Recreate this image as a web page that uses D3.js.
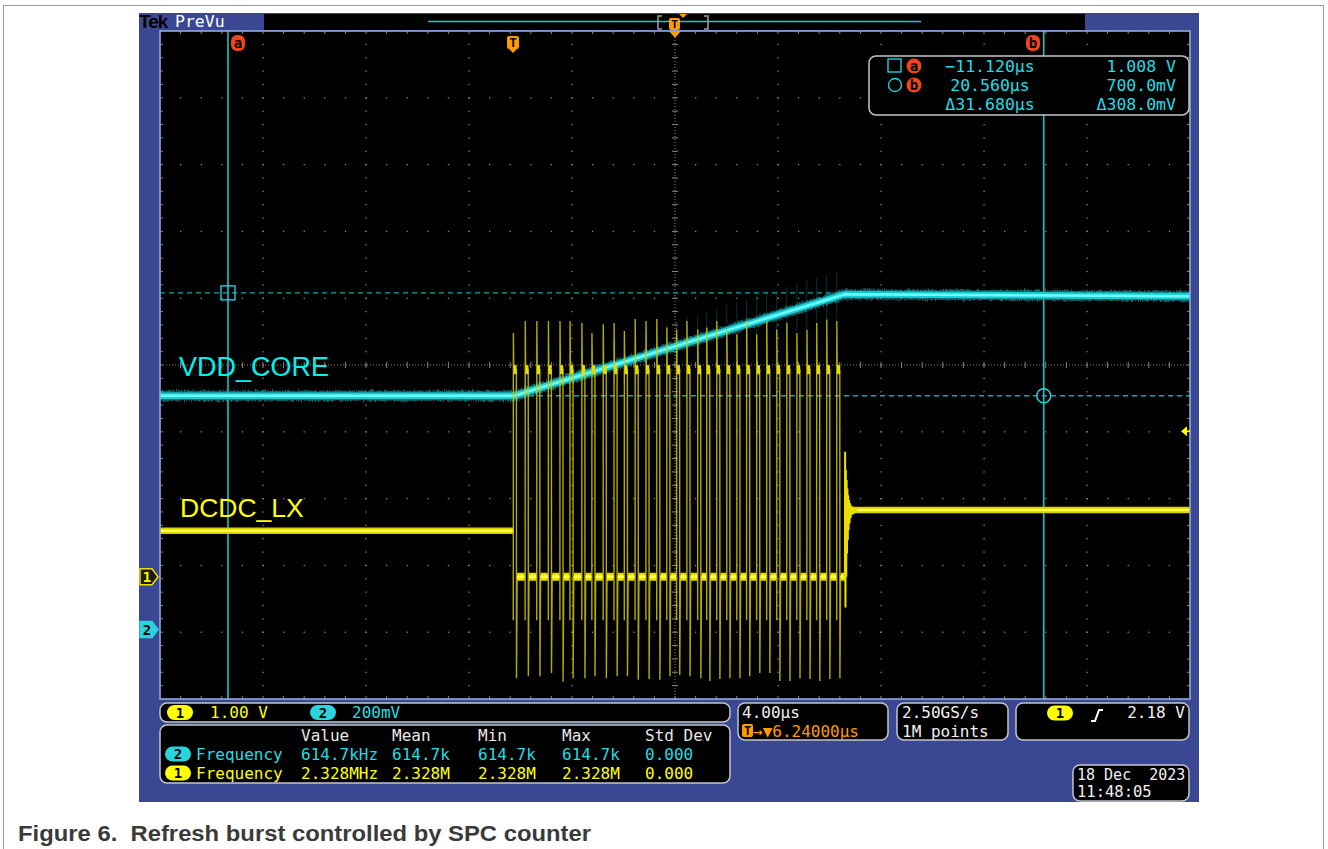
<!DOCTYPE html>
<html><head><meta charset="utf-8">
<script src="https://cdn.jsdelivr.net/npm/d3@7"></script>
<style>body{margin:0;background:#fff}svg{display:block}</style>
</head><body>
<svg id="c" width="1328" height="849"></svg>
<script>
// ---------------- data ----------------
const timeDomain = [-13.76, 26.24];          // µs : 4.00 µs/div, centre at +6.24 µs
const chVoltsPerDiv = [1.00, 0.200];         // CH1 (DCDC_LX), CH2 (VDD_CORE)
const chPositionDiv = [-3.17, -3.96];        // ground marker positions (div from centre)
const vddT = [-13.76, 0.00, 12.84, 26.24];   // µs
const vddV = [0.700, 0.700, 1.004, 0.998];   // V
const lxIdleT = [-13.76, -0.04];
const lxIdleV = [0.69, 0.69];
const pulseT  = [-0.04,0.42,0.87,1.32,1.77,2.16,2.62,3.01,3.45,3.87,4.27,4.69,5.11,5.53,5.92,6.30,
                 6.70,7.12,7.47,7.86,8.25,8.64,9.02,9.41,9.80,10.19,10.58,10.97,11.36,11.74,12.13,12.52];
const pulseHi = [3.65,3.83,3.83,3.83,3.83,3.83,3.80,3.65,3.78,3.80,3.68,3.86,3.83,3.86,3.73,3.70,
                 3.83,3.70,3.73,3.83,3.70,3.63,3.83,3.63,3.83,3.70,3.80,3.65,3.70,3.80,3.85,3.83];
const pulseLo = [-1.52,-1.49,-1.49,-1.44,-1.57,-1.52,-1.52,-1.49,-1.52,-1.49,-1.49,-1.54,-1.53,-1.54,-1.49,-1.47,
                 -1.49,-1.52,-1.56,-1.53,-1.52,-1.52,-1.49,-1.44,-1.44,-1.56,-1.56,-1.52,-1.53,-1.56,-1.53,-1.52];
const pulseLevels = [3.10, 0.00, -0.65];     // high plateau, low plateau, rising-edge dip (V)
const burstEnd = 12.84;
const ringT = [12.84,12.845,12.86,12.875,12.89,12.905,12.92,12.935,12.95,12.965,12.98,13.0,13.02,13.04,13.06,13.09,13.12,13.16,13.2,13.25,13.32];
const ringV = [0.0,1.87,-0.46,1.60,0.00,1.45,0.35,1.32,0.55,1.22,0.70,1.15,0.80,1.10,0.88,1.06,0.93,1.03,0.97,1.01,1.0];
const lxAfterT = [13.0, 26.24];
const lxAfterV = [1.00, 1.00];
const cursorT = [-11.12, 20.56];             // µs
const cursorV = [1.008, 0.700];              // V (CH2)
const trigLevel = 2.18;                      // V (CH1)
const readoutTime = ["\u221211.120\u00b5s", "20.560\u00b5s", "\u039431.680\u00b5s"];
const readoutVolt = ["1.008 V", "700.0mV", "\u0394308.0mV"];
const measHeader = ["Value", "Mean", "Min", "Max", "Std Dev"];
const measCh2 = ["614.7kHz", "614.7k", "614.7k", "614.7k", "0.000"];
const measCh1 = ["2.328MHz", "2.328M", "2.328M", "2.328M", "0.000"];
const chLabels = ["1.00 V", "200mV"];
const timebase = ["4.00\u00b5s", "\u2192\u25bc6.24000\u00b5s"];
const acquisition = ["2.50GS/s", "1M points"];
const trigText = "2.18 V";
const dateText = ["18 Dec  2023", "11:48:05"];

// ---------------- layout ----------------
const L = 160, R = 1190, T = 31, B = 699;
const svg = d3.select('#c');
const MONO = "'DejaVu Sans Mono', monospace";
const SANS = "'Liberation Sans', Arial, sans-serif";
const YEL = '#ffff00', CYA = '#22dde4', ORA = '#ff9a00';

const defs = svg.append('defs');
const f = defs.append('filter').attr('id', 'fuzz').attr('x', '-5%').attr('y', '-50%').attr('width', '110%').attr('height', '200%');
f.append('feTurbulence').attr('type', 'fractalNoise').attr('baseFrequency', '0.9 0.25').attr('numOctaves', 2).attr('seed', 3).attr('result', 'n');
f.append('feDisplacementMap').attr('in', 'SourceGraphic').attr('in2', 'n').attr('scale', 6).attr('xChannelSelector', 'R').attr('yChannelSelector', 'G');

const x = d3.scaleLinear().domain(timeDomain).range([L, R]);
const gx = d3.scaleLinear().domain([0, 10]).range([L, R]);
const gy = d3.scaleLinear().domain([0, 10]).range([T, B]);
const chScale = i => d3.scaleLinear()
  .domain([(-5 - chPositionDiv[i]) * chVoltsPerDiv[i], (5 - chPositionDiv[i]) * chVoltsPerDiv[i]])
  .range([B, T]);
const y1 = chScale(0), y2 = chScale(1);
const vddAt = d3.scaleLinear().domain(vddT).range(vddV);

// page border + caption
svg.append('rect').attr('x', 3.5).attr('y', 5.5).attr('width', 1320).attr('height', 870)
  .attr('fill', 'none').attr('stroke', '#9a9a9a');
svg.append('text').attr('x', 18).attr('y', 841).style('white-space', 'pre')
  .attr('font-family', SANS).attr('font-weight', 'bold').attr('font-size', 21.5).attr('fill', '#3a3a3a')
  .attr('textLength', 573).attr('lengthAdjust', 'spacingAndGlyphs')
  .text('Figure 6.  Refresh burst controlled by SPC counter');

// scope frame
svg.append('rect').attr('x', 139).attr('y', 13).attr('width', 1060).attr('height', 789).attr('fill', '#3a4894');
svg.append('rect').attr('x', 264).attr('y', 14).attr('width', 821).attr('height', 16).attr('fill', '#000');
svg.append('text').attr('x', 139).attr('y', 28).attr('font-family', SANS).attr('font-weight', 'bold')
  .attr('font-size', 19).attr('fill', '#000').attr('letter-spacing', -1).text('Tek');
svg.append('text').attr('x', 175).attr('y', 27).attr('font-family', MONO).attr('font-size', 16.5)
  .attr('fill', '#fff').text('PreVu');
// record view
svg.append('line').attr('x1', 428).attr('x2', 921).attr('y1', 21.5).attr('y2', 21.5)
  .attr('stroke', '#1ec8d0').attr('stroke-width', 1.5);
svg.append('path').attr('d', 'M662,16 L658,16 L658,29 L662,29 M704,16 L708,16 L708,29 L704,29')
  .attr('fill', 'none').attr('stroke', '#a0a0a0').attr('stroke-width', 1.5);
svg.append('rect').attr('x', 669).attr('y', 18).attr('width', 11).attr('height', 12).attr('rx', 2).attr('fill', ORA);
svg.append('text').attr('x', 674.5).attr('y', 28).attr('text-anchor', 'middle').attr('font-family', MONO)
  .attr('font-weight', 'bold').attr('font-size', 11).attr('fill', '#000').text('T');
svg.append('path').attr('d', 'M679,14 L687,14 L683,18 Z').attr('fill', ORA);

// plot area
svg.append('rect').attr('x', L).attr('y', T).attr('width', R - L).attr('height', B - T).attr('fill', '#000');

// graticule
const grid = svg.append('g');
const dots = [];
for (let k = 1; k < 10; k++) {
  if (k === 5) continue;
  for (let j = 1; j < 50; j++) {
    dots.push([gx(k), gy(j / 5)]);
    dots.push([gx(j / 5), gy(k)]);
  }
}
grid.selectAll('rect.d').data(dots).join('rect').attr('class', 'd')
  .attr('x', d => d[0] - 0.6).attr('y', d => d[1] - 0.6).attr('width', 1.3).attr('height', 1.3).attr('fill', '#8a8a74');
grid.append('line').attr('x1', gx(5)).attr('x2', gx(5)).attr('y1', T).attr('y2', B)
  .attr('stroke', '#8c8672').attr('stroke-dasharray', '1,2');
grid.append('line').attr('x1', L).attr('x2', R).attr('y1', gy(5)).attr('y2', gy(5))
  .attr('stroke', '#8c8672').attr('stroke-dasharray', '1,2');
const minor = d3.range(1, 50).map(j => j / 5);
grid.selectAll('line.tx').data(minor).join('line').attr('class', 'tx')
  .attr('x1', d => gx(d)).attr('x2', d => gx(d)).attr('y1', gy(5) - 3).attr('y2', gy(5) + 3).attr('stroke', '#8c8672');
grid.selectAll('line.ty').data(minor).join('line').attr('class', 'ty')
  .attr('y1', d => gy(d)).attr('y2', d => gy(d)).attr('x1', gx(5) - 3).attr('x2', gx(5) + 3).attr('stroke', '#8c8672');
grid.selectAll('line.bt').data(minor).join('line').attr('class', 'bt')
  .attr('x1', d => gx(d)).attr('x2', d => gx(d)).attr('y1', T).attr('y2', T + 3).attr('stroke', '#8c8672');
grid.selectAll('line.bb').data(minor).join('line').attr('class', 'bb')
  .attr('x1', d => gx(d)).attr('x2', d => gx(d)).attr('y1', B - 3).attr('y2', B).attr('stroke', '#8c8672');
grid.selectAll('line.bl').data(minor).join('line').attr('class', 'bl')
  .attr('y1', d => gy(d)).attr('y2', d => gy(d)).attr('x1', L).attr('x2', L + 3).attr('stroke', '#8c8672');
grid.selectAll('line.br').data(minor).join('line').attr('class', 'br')
  .attr('y1', d => gy(d)).attr('y2', d => gy(d)).attr('x1', R - 3).attr('x2', R).attr('stroke', '#8c8672');

// cursors
const cur = svg.append('g');
cursorV.forEach(v => cur.append('line').attr('x1', L).attr('x2', R).attr('y1', y2(v)).attr('y2', y2(v))
  .attr('stroke', '#17a8ac').attr('stroke-width', 1.3).attr('stroke-dasharray', '5,4'));
cursorT.forEach(t => cur.append('line').attr('x1', x(t)).attr('x2', x(t)).attr('y1', T).attr('y2', B)
  .attr('stroke', '#1ec0c8').attr('stroke-width', 1.6));

// ---------------- traces ----------------
const line2 = d3.line().x(d => x(d[0])).y(d => y2(d[1]));
const line1 = d3.line().x(d => x(d[0])).y(d => y1(d[1]));
const zip = (a, b) => a.map((v, i) => [v, b[i]]);

function band(g, path, col) {
  g.append('path').attr('d', path).attr('fill', 'none').attr('stroke', col[0]).attr('stroke-width', 10)
    .attr('opacity', 0.7).attr('filter', 'url(#fuzz)');
  g.append('path').attr('d', path).attr('fill', 'none').attr('stroke', col[1]).attr('stroke-width', 6.5);
  g.append('path').attr('d', path).attr('fill', 'none').attr('stroke', col[2]).attr('stroke-width', 2.5);
}

// CH2 VDD_CORE
const tr2 = svg.append('g');
tr2.selectAll('line.sp').data(pulseT).join('line').attr('class', 'sp')
  .attr('x1', d => x(d)).attr('x2', d => x(d))
  .attr('y1', d => y2(vddAt(d) + 0.075)).attr('y2', d => y2(vddAt(d) - 0.065))
  .attr('stroke', '#169aa2').attr('stroke-width', 1).attr('opacity', 0.32);
band(tr2, line2(zip(vddT, vddV)), ['#0e9aa0', '#16cfd5', '#6ffcff']);

// CH1 DCDC_LX
const tr1 = svg.append('g');
band(tr1, line1(zip(lxIdleT, lxIdleV)), ['#9a9200', '#d9d000', '#ffff40']);
band(tr1, line1(zip(lxAfterT, lxAfterV)), ['#9a9200', '#d9d000', '#ffff40']);
const burstPts = [];
pulseT.forEach((t, i) => {
  burstPts.push([t, pulseLevels[1]], [t, pulseLevels[2]], [t + 0.004, pulseHi[i]], [t + 0.02, pulseLevels[0]],
    [t + 0.12, pulseLevels[0]], [t + 0.124, pulseLo[i]], [t + 0.15, pulseLevels[1]]);
});
burstPts.push([burstEnd, pulseLevels[1]]);
tr1.append('path').attr('d', line1(burstPts)).attr('fill', 'none').attr('stroke', '#d2c800')
  .attr('stroke-width', 1.4).attr('opacity', 0.85);
const lowSeg = pulseT.map((t, i) => [[t + 0.15, pulseLevels[1]], [i < pulseT.length - 1 ? pulseT[i + 1] - 0.02 : burstEnd, pulseLevels[1]]]);
tr1.selectAll('path.lo').data(lowSeg).join('path').attr('class', 'lo').attr('d', d => line1(d))
  .attr('fill', 'none').attr('stroke', '#e6dc00').attr('stroke-width', 8);
tr1.selectAll('path.lo2').data(lowSeg).join('path').attr('class', 'lo2').attr('d', d => line1(d))
  .attr('fill', 'none').attr('stroke', '#ffff50').attr('stroke-width', 3);
const hiSeg = pulseT.map(t => [[t + 0.01, pulseLevels[0]], [t + 0.13, pulseLevels[0]]]);
tr1.selectAll('path.hi').data(hiSeg).join('path').attr('class', 'hi').attr('d', d => line1(d))
  .attr('fill', 'none').attr('stroke', '#e6dc00').attr('stroke-width', 9);
tr1.append('path').attr('d', line1(zip(ringT, ringV))).attr('fill', 'none').attr('stroke', '#e8de00').attr('stroke-width', 2);

// labels
svg.append('text').attr('x', 179).attr('y', 376).attr('font-family', SANS).attr('font-size', 27)
  .attr('fill', '#00f2f2').text('VDD_CORE');
svg.append('text').attr('x', 180).attr('y', 517).attr('font-family', SANS).attr('font-size', 26.5)
  .attr('fill', YEL).text('DCDC_LX');

// cursor markers
cur.append('rect').attr('x', x(cursorT[0]) - 7).attr('y', y2(cursorV[0]) - 7).attr('width', 14).attr('height', 14)
  .attr('fill', 'none').attr('stroke', CYA).attr('stroke-width', 1.3);
cur.append('circle').attr('cx', x(cursorT[1])).attr('cy', y2(cursorV[1])).attr('r', 7)
  .attr('fill', 'none').attr('stroke', CYA).attr('stroke-width', 1.3);

// plot border
svg.append('rect').attr('x', L).attr('y', T).attr('width', R - L).attr('height', B - T)
  .attr('fill', 'none').attr('stroke', '#93a8dc').attr('stroke-width', 1.6);

function badge(cx, cy, letter, col) {
  svg.append('rect').attr('x', cx - 7).attr('y', cy - 8).attr('width', 14).attr('height', 16).attr('rx', 6).attr('fill', col);
  svg.append('text').attr('x', cx).attr('y', cy + 5).attr('text-anchor', 'middle').attr('font-family', MONO)
    .attr('font-weight', 'bold').attr('font-size', 14).attr('fill', '#000').text(letter);
}
badge(238, 43, 'a', '#f2441a');
badge(1033, 43, 'b', '#f2441a');
svg.append('rect').attr('x', 507).attr('y', 36).attr('width', 12).attr('height', 13).attr('rx', 2).attr('fill', ORA);
svg.append('path').attr('d', 'M509,49 L517,49 L513,53 Z').attr('fill', ORA);
svg.append('text').attr('x', 513).attr('y', 47).attr('text-anchor', 'middle').attr('font-family', MONO)
  .attr('font-weight', 'bold').attr('font-size', 12).attr('fill', '#000').text('T');
svg.append('path').attr('d', `M${gx(5) - 6},${T} L${gx(5) + 6},${T} L${gx(5)},${T + 7} Z`).attr('fill', ORA);

// channel markers (left) and trigger level (right)
function chMarker(cy, label, fill, stroke, txtCol) {
  svg.append('path').attr('d', `M140,${cy - 8} L152,${cy - 8} L158,${cy} L152,${cy + 8} L140,${cy + 8} Z`)
    .attr('fill', fill).attr('stroke', stroke).attr('stroke-width', 1.5);
  svg.append('text').attr('x', 147).attr('y', cy + 5).attr('text-anchor', 'middle').attr('font-family', MONO)
    .attr('font-weight', 'bold').attr('font-size', 14).attr('fill', txtCol).text(label);
}
chMarker(y1(0), '1', '#1c1a00', '#e8e000', YEL);
chMarker(y2(0), '2', '#2ad4dc', '#2ad4dc', '#000');
svg.append('path').attr('d', `M${R - 9},${y1(trigLevel)} L${R - 3},${y1(trigLevel) - 5} L${R - 3},${y1(trigLevel) + 5} Z`).attr('fill', YEL);
svg.append('line').attr('x1', R - 4).attr('x2', R).attr('y1', y1(trigLevel)).attr('y2', y1(trigLevel)).attr('stroke', YEL).attr('stroke-width', 1.5);

// ---------------- panels ----------------
function panel(x0, y0, w, h) {
  svg.append('rect').attr('x', x0).attr('y', y0).attr('width', w).attr('height', h).attr('rx', 7)
    .attr('fill', '#000').attr('stroke', '#c4c4cc').attr('stroke-width', 1.5);
}
function txt(x0, y0, s, col, anchor, size) {
  return svg.append('text').attr('x', x0).attr('y', y0).attr('font-family', MONO).attr('font-size', size || 16)
    .attr('fill', col).attr('text-anchor', anchor || 'start').style('white-space', 'pre').text(s);
}
function pill(cx, cy, label, col) {
  svg.append('rect').attr('x', cx - 13).attr('y', cy - 7.5).attr('width', 26).attr('height', 15).attr('rx', 7.5).attr('fill', col);
  svg.append('text').attr('x', cx).attr('y', cy + 5).attr('text-anchor', 'middle').attr('font-family', MONO)
    .attr('font-weight', 'bold').attr('font-size', 14).attr('fill', '#000').text(label);
}

// cursor readout
panel(869, 56, 320, 59);
svg.append('rect').attr('x', 888).attr('y', 59).attr('width', 13).attr('height', 13).attr('fill', 'none').attr('stroke', CYA).attr('stroke-width', 1.3);
svg.append('circle').attr('cx', 895).attr('cy', 85).attr('r', 6.5).attr('fill', 'none').attr('stroke', CYA).attr('stroke-width', 1.3);
svg.append('circle').attr('cx', 914).attr('cy', 66).attr('r', 7.5).attr('fill', '#f2441a');
svg.append('text').attr('x', 914).attr('y', 71).attr('text-anchor', 'middle').attr('font-family', MONO).attr('font-weight', 'bold').attr('font-size', 14).attr('fill', '#000').text('a');
svg.append('circle').attr('cx', 914).attr('cy', 85).attr('r', 7.5).attr('fill', '#f2441a');
svg.append('text').attr('x', 914).attr('y', 90).attr('text-anchor', 'middle').attr('font-family', MONO).attr('font-weight', 'bold').attr('font-size', 14).attr('fill', '#000').text('b');
readoutTime.forEach((s, i) => txt(990, 72 + i * 19, s, CYA, 'middle', 16.5));
readoutVolt.forEach((s, i) => txt(1176, 72 + i * 19, s, CYA, 'end', 16.5));

// channel scale box
panel(160, 703, 570, 19);
pill(180, 712.5, '1', YEL); txt(210, 718, chLabels[0], YEL);
pill(323, 712.5, '2', '#2ad4dc'); txt(352, 718, chLabels[1], CYA);

// measurements
panel(160, 725, 570, 58);
const colX = [301, 392, 478, 562, 645];
measHeader.forEach((s, i) => txt(colX[i], 741, s, '#e8e8e8'));
pill(178, 754, '2', '#2ad4dc'); txt(196, 760, 'Frequency', CYA);
measCh2.forEach((s, i) => txt(colX[i], 760, s, CYA));
pill(178, 773, '1', YEL); txt(196, 779, 'Frequency', YEL);
measCh1.forEach((s, i) => txt(colX[i], 779, s, YEL));

// timebase
panel(738, 703, 150, 37);
txt(742, 718, timebase[0], '#f0f0f0');
svg.append('rect').attr('x', 742).attr('y', 724).attr('width', 11).attr('height', 13).attr('rx', 2).attr('fill', ORA);
svg.append('text').attr('x', 747.5).attr('y', 735).attr('text-anchor', 'middle').attr('font-family', MONO).attr('font-weight', 'bold').attr('font-size', 12).attr('fill', '#000').text('T');
txt(753, 737, timebase[1], ORA);

// acquisition
panel(897, 703, 111, 37);
txt(902, 718, acquisition[0], '#f0f0f0');
txt(902, 737, acquisition[1], '#f0f0f0');

// trigger
panel(1016, 703, 173, 37);
pill(1060, 713, '1', YEL);
svg.append('path').attr('d', 'M1091,721 L1095,721 L1099,710 L1103,710').attr('fill', 'none').attr('stroke', '#fff').attr('stroke-width', 2);
txt(1185, 718, trigText, '#f0f0f0', 'end');

// date
panel(1073, 765, 116, 36);
txt(1077, 780, dateText[0], '#f0f0f0', 'start', 15);
txt(1077, 797, dateText[1], '#f0f0f0', 'start', 15.5);
</script>
</body></html>
